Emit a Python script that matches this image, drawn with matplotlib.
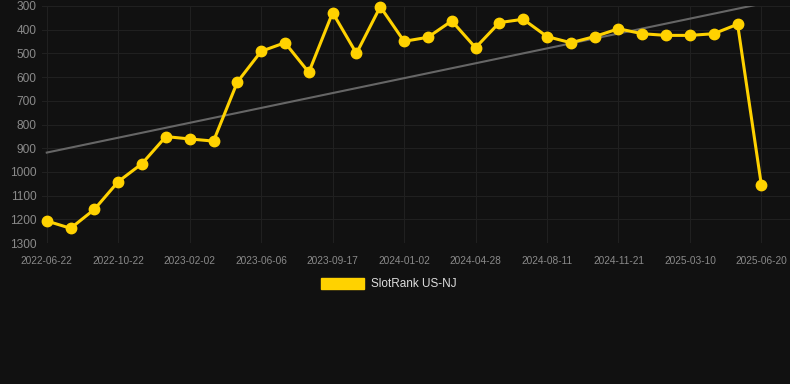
import numpy as np
import matplotlib
matplotlib.use("Agg")
import matplotlib.pyplot as plt

# SlotRank US-NJ, one point per period, label shown on every third point
dates = ["2022-06-22", "", "", "2022-10-22", "", "", "2023-02-02", "", "",
         "2023-06-06", "", "", "2023-09-17", "", "", "2024-01-02", "", "",
         "2024-04-28", "", "", "2024-08-11", "", "", "2024-11-21", "", "",
         "2025-03-10", "", "", "2025-06-20"]
ranks = [1207, 1238, 1158, 1041, 965, 851, 861, 870, 621, 491,
         455, 580, 328, 500, 303, 449, 432, 363, 476, 370,
         356, 429, 455, 429, 396, 417, 424, 424, 417, 377, 1057]
y_ticks = [300, 400, 500, 600, 700, 800, 900, 1000, 1100, 1200, 1300]

BG = "#111111"
GOLD = "#FFD200"

plt.rcParams['font.family'] = ['Liberation Sans', 'DejaVu Sans']

fig = plt.figure(figsize=(7.9, 3.84), dpi=100, facecolor=BG)
ax = fig.add_axes([42/790, 1 - 243/384, 748/790, 237/384], facecolor=BG)

x = np.arange(len(ranks))

# linear trend over the whole series
k, b = np.polyfit(x, ranks, 1)
ax.plot(x, k*x + b, color="#666666", lw=1.5, zorder=2)

ax.plot(x, ranks, color=GOLD, lw=2.2, marker="o", ms=7.5,
        clip_on=False, zorder=3, label="SlotRank US-NJ")

ax.set_ylim(1300, 300)
ax.set_yticks(y_ticks)
ax.set_xlim(-0.2, 31.2)
tick_idx = [i for i, d in enumerate(dates) if d]
ax.set_xticks(tick_idx)
ax.set_xticklabels([dates[i] for i in tick_idx])

ax.grid(True, color="#202020", lw=0.8)
ax.set_axisbelow(True)
for s in ax.spines.values():
    s.set_visible(False)
ax.tick_params(axis="y", length=0, pad=4, labelsize=8.6, labelcolor="#8a8a8a")
ax.tick_params(axis="x", length=0, pad=9, labelsize=7.3, labelcolor="#8a8a8a")

leg = fig.legend(handles=[plt.Rectangle((0, 0), 1, 1, fc=GOLD, ec=GOLD)],
                 labels=["SlotRank US-NJ"], loc="center",
                 bbox_to_anchor=(389/790, 1 - 284/384), frameon=False,
                 fontsize=8.5, handlelength=3.6, handleheight=1.1,
                 handletextpad=0.6)
for t in leg.get_texts():
    t.set_color("#dddddd")

fig.savefig("out.png", dpi=100, facecolor=BG)
